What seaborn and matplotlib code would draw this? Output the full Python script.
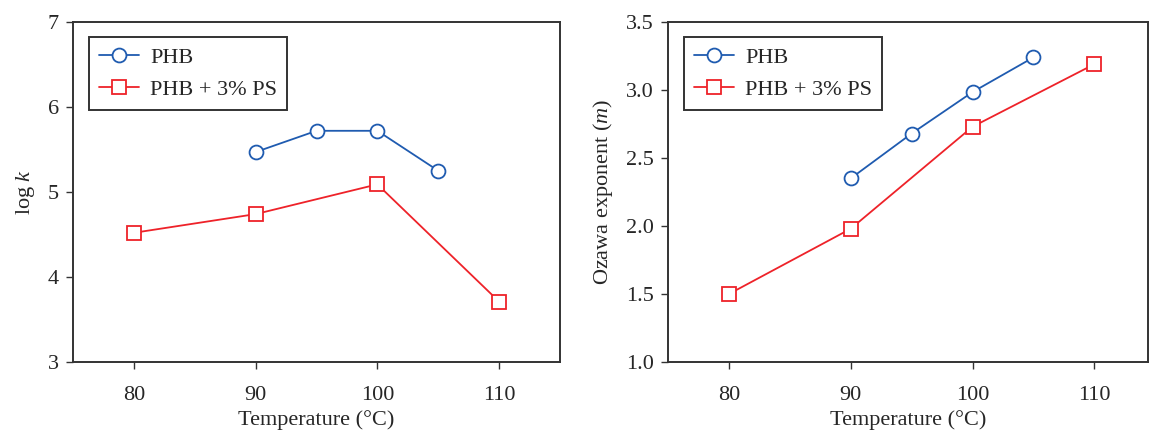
import matplotlib
matplotlib.use("Agg")
import matplotlib.pyplot as plt
import seaborn as sns
import pandas as pd

# Data
temp_phb = [90, 95, 100, 105]
temp_ps = [80, 90, 100, 110]
logk_phb = [5.47, 5.72, 5.72, 5.25]
logk_ps = [4.52, 4.74, 5.09, 3.71]
m_phb = [2.35, 2.68, 2.985, 3.24]
m_ps = [1.50, 1.98, 2.73, 3.19]
series_names = ["PHB", "PHB + 3% PS"]
x_ticks = [80, 90, 100, 110]

sns.set_style("white")
plt.rcParams["font.family"] = ["Liberation Serif", "DejaVu Serif"]
plt.rcParams["mathtext.fontset"] = "custom"
plt.rcParams["mathtext.rm"] = "Liberation Serif"
plt.rcParams["mathtext.it"] = "Liberation Serif:italic"

blue = "#1f5bb0"
red = "#ee2229"
spine_c = "#333333"
fs = 16

fig = plt.figure(figsize=(11.49, 4.40), dpi=100)
ax1 = fig.add_axes([73/1149, 1-362/440, (560-73)/1149, (362-22)/440])
ax2 = fig.add_axes([668/1149, 1-362/440, (1148-668)/1149, (362-22)/440])

def draw(ax, y1, y2, ylim, yticks, yticklabels, ylabel, xr):
    df1 = pd.DataFrame({"T": temp_phb, "v": y1})
    df2 = pd.DataFrame({"T": temp_ps, "v": y2})
    sns.lineplot(data=df1, x="T", y="v", ax=ax, color=blue, marker="o",
                 markersize=10, mfc="white", mec=blue, mew=1.3, lw=1.3,
                 label=series_names[0])
    sns.lineplot(data=df2, x="T", y="v", ax=ax, color=red, marker="s",
                 markersize=10, mfc="white", mec=red, mew=1.3, lw=1.3,
                 label=series_names[1])
    ax.set_xlim(*xr)
    ax.set_ylim(*ylim)
    ax.set_xticks(x_ticks)
    ax.set_xticklabels([str(t) for t in x_ticks])
    ax.set_yticks(yticks)
    ax.set_yticklabels(yticklabels)
    ax.set_xlabel("Temperature (°C)", fontsize=fs, labelpad=4)
    ax.set_ylabel(ylabel, fontsize=fs, labelpad=8)
    ax.tick_params(axis="both", which="both", direction="out", length=5,
                   width=1.0, color=spine_c, labelsize=fs, pad=5,
                   bottom=True, left=True, top=False, right=False)
    ax.tick_params(axis="x", pad=12)
    for s in ax.spines.values():
        s.set_color(spine_c)
        s.set_linewidth(1.4)
    leg = ax.legend(loc="upper left", bbox_to_anchor=(0.033, 0.955),
                    borderaxespad=0, fancybox=False, frameon=True,
                    fontsize=fs, handlelength=1.8, handletextpad=0.5,
                    borderpad=0.45, labelspacing=0.5, framealpha=1)
    leg.get_frame().set_edgecolor(spine_c)
    leg.get_frame().set_linewidth(1.4)

draw(ax1, logk_phb, logk_ps, (3, 7), [3, 4, 5, 6, 7],
     ["3", "4", "5", "6", "7"], r"log $\mathit{k}$", (75, 115))
draw(ax2, m_phb, m_ps, (1.0, 3.5), [1.0, 1.5, 2.0, 2.5, 3.0, 3.5],
     ["1.0", "1.5", "2.0", "2.5", "3.0", "3.5"],
     r"Ozawa exponent ($\mathit{m}$)", (75, 114.4))

fig.savefig("out.png", dpi=100)
